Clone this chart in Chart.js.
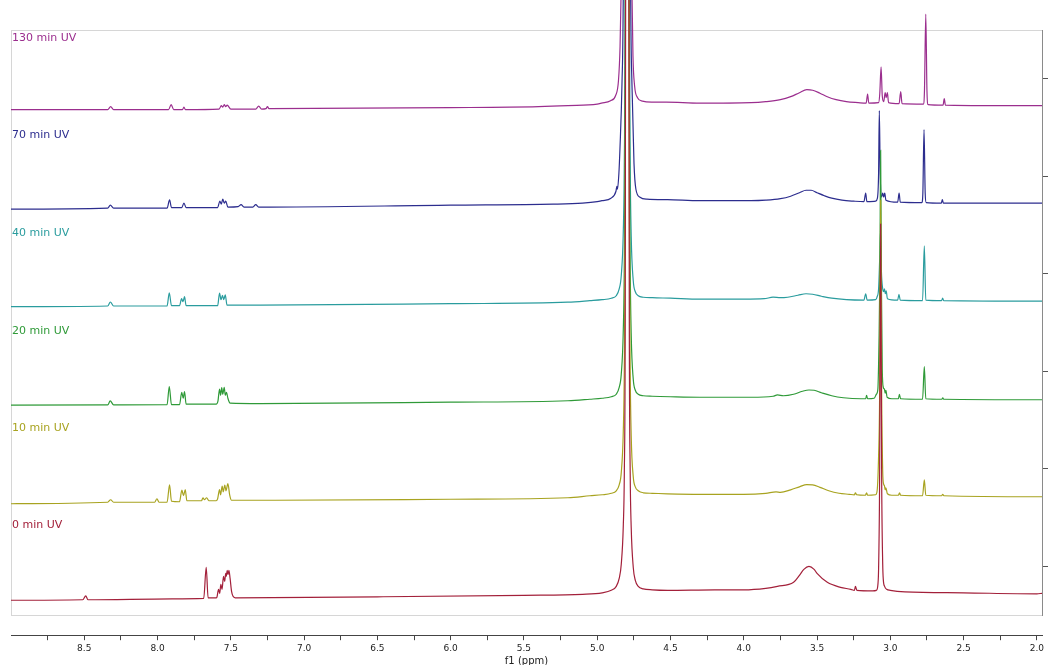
<!DOCTYPE html>
<html>
<head>
<meta charset="utf-8">
<script src="https://cdn.jsdelivr.net/npm/chart.js@4.4.1/dist/chart.umd.min.js"></script>
<style>
  html, body { margin: 0; padding: 0; background: #fff; }
  canvas { display: block; }
</style>
</head>
<body>
<canvas id="nmr" width="1048" height="665"></canvas>
<script>
// stacked 1H spectra, [ppm, intensity above the trace offset]
const spec0 = [
  [9.0, -7], [8.51, -6.5], [8.49, -2.5], [8.475, -6.5], [7.9, -5.5], [7.685, -5],
  [7.668, 26], [7.655, -4.5], [7.6, -4.5], [7.595, -4], [7.584, 4], [7.576, 0],
  [7.568, 9], [7.56, 4], [7.55, 17], [7.542, 12], [7.535, 20], [7.531, 17],
  [7.525, 23], [7.519, 19], [7.513, 23], [7.505, 15], [7.495, 2], [7.485, -3],
  [7.47, -4.5], [6.5, -3.5], [5.5, -2], [5.1, -1],
  [4.966, 0.5], [4.904, 3], [4.87, 7], [4.85, 15], [4.836, 29], [4.822, 68],
  [4.815, 121], [4.809, 274], [4.802, 1100], [4.795, 3000], [4.788, 1100],
  [4.781, 275], [4.775, 122], [4.768, 66], [4.754, 26], [4.74, 13], [4.72, 7],
  [4.686, 4.5], [4.624, 3.5], [4.52, 3], [4.2, 3.5], [4.0, 3.5],
  [3.85, 5], [3.77, 7], [3.66, 11], [3.62, 18], [3.59, 24], [3.555, 27],
  [3.52, 24], [3.5, 20], [3.43, 11], [3.34, 6], [3.27, 4], [3.245, 3],
  [3.238, 7], [3.228, 3], [3.12, 2.5], [3.095, 3], [3.084, 10], [3.08, 25],
  [3.073, 115], [3.066, 371], [3.059, 115], [3.052, 30], [3.048, 14],
  [3.039, 7], [3.025, 4], [3.0, 3], [2.9, 1.5], [2.5, 0.5], [2.0, -0.5], [1.965, 0]
];
const spec10 = [
  [9.0, -8], [8.34, -6.5], [8.32, -4], [8.3, -6.5], [8.02, -6.5], [8.004, -3],
  [7.99, -6.5], [7.935, -6.5], [7.918, 11], [7.905, -5.5], [7.85, -6],
  [7.834, 5.7], [7.823, 0], [7.811, 6.3], [7.8, -5], [7.7, -5], [7.69, -2],
  [7.68, -4], [7.665, -2], [7.65, -5], [7.6, -5], [7.59, -3], [7.577, 6.3],
  [7.57, 1], [7.559, 9.7], [7.552, 4], [7.541, 10.7], [7.533, 5], [7.52, 12.3],
  [7.508, 1], [7.495, -4.5], [7.2, -4.5], [6.0, -3.5], [5.2, -2], [5.05, 0],
  [4.966, 1], [4.904, 2.5], [4.87, 5], [4.85, 11], [4.836, 23], [4.822, 65],
  [4.815, 130], [4.809, 300], [4.802, 1200], [4.795, 4000], [4.788, 1200],
  [4.781, 300], [4.775, 130], [4.768, 60], [4.754, 19], [4.74, 9], [4.72, 5],
  [4.686, 3], [4.624, 2.5], [4.52, 2], [4.3, 1.5], [4.0, 1.5], [3.85, 2.5],
  [3.78, 4], [3.75, 3.5], [3.68, 6], [3.62, 9], [3.57, 11.3], [3.53, 11],
  [3.48, 8.5], [3.42, 5], [3.35, 2.5], [3.28, 1.5], [3.245, 1], [3.238, 3],
  [3.23, 1], [3.17, 0.5], [3.162, 3], [3.155, 0.5], [3.1, 1], [3.09, 5],
  [3.08, 40], [3.073, 100], [3.066, 297], [3.059, 100], [3.052, 25],
  [3.046, 12], [3.04, 10], [3.035, 6], [3.03, 8], [3.02, 2], [2.99, 0.5],
  [2.945, 0.5], [2.937, 3], [2.93, 0.5], [2.78, 0], [2.768, 16], [2.758, 0.5],
  [2.65, 0], [2.642, 1.5], [2.635, 0], [2.0, -1], [1.965, -1]
];
const spec20 = [
  [9.0, -6], [8.34, -5.7], [8.323, -1.7], [8.3, -5.7], [7.935, -5.5],
  [7.92, 12.7], [7.905, -5.5], [7.85, -5.5], [7.835, 7], [7.825, 1],
  [7.816, 7.7], [7.805, -5], [7.6, -5], [7.588, -2], [7.577, 10.3], [7.57, 4],
  [7.562, 11.7], [7.555, 5], [7.545, 12], [7.538, 4], [7.53, 7], [7.52, 1],
  [7.505, -4], [7.3, -4.5], [6.0, -3], [5.2, -1.5], [5.05, 0],
  [4.966, 1], [4.904, 2.5], [4.87, 5], [4.85, 12], [4.836, 25],
  [4.822, 70], [4.815, 140], [4.809, 330], [4.802, 1300], [4.795, 4000],
  [4.788, 1300], [4.781, 330], [4.775, 140], [4.768, 65], [4.754, 20],
  [4.74, 9], [4.72, 5], [4.686, 3.5], [4.624, 3], [4.5, 2.5], [4.3, 2],
  [3.95, 2], [3.8, 3], [3.77, 4.3], [3.73, 3.5], [3.66, 5], [3.6, 8],
  [3.555, 9.3], [3.52, 9], [3.47, 6.5], [3.4, 3.5], [3.32, 1.5], [3.2, 0.5],
  [3.168, 0.5], [3.162, 4], [3.155, 0.5], [3.11, 1], [3.095, 5], [3.085, 10],
  [3.077, 60], [3.071, 130], [3.066, 250], [3.061, 120], [3.055, 30],
  [3.048, 12], [3.04, 10], [3.035, 6], [3.03, 9], [3.022, 2], [2.99, 0.5],
  [2.945, 0.5], [2.938, 5], [2.93, 0.5], [2.78, 0], [2.768, 32.7], [2.758, 0.5],
  [2.648, 0], [2.642, 1.5], [2.636, 0], [2.0, -0.5], [1.965, -0.5]
];
const spec40 = [
  [9.0, -6], [8.34, -5.3], [8.322, -1.3], [8.3, -5.3], [7.935, -5.3],
  [7.92, 8], [7.905, -5], [7.85, -5], [7.836, 2], [7.826, -1], [7.816, 4],
  [7.805, -5], [7.59, -5], [7.577, 7.7], [7.567, 1], [7.557, 5.3], [7.548, 1],
  [7.538, 6], [7.526, -4.5], [7.3, -4.5], [6.0, -3], [5.2, -1.5], [5.05, 0],
  [4.966, 1], [4.904, 2.5], [4.87, 5], [4.85, 12], [4.836, 25],
  [4.822, 70], [4.815, 140], [4.809, 330], [4.802, 1300], [4.795, 4000],
  [4.788, 1300], [4.781, 330], [4.775, 140], [4.768, 65], [4.754, 20],
  [4.74, 9], [4.72, 5], [4.686, 3.5], [4.624, 3], [4.5, 2.5], [4.3, 1.5],
  [4.0, 1.5], [3.86, 2], [3.8, 3.5], [3.75, 3], [3.7, 3.5], [3.63, 5.5],
  [3.575, 7], [3.53, 6.5], [3.47, 4.5], [3.4, 2.5], [3.3, 1], [3.18, 0.5],
  [3.168, 7], [3.158, 0.5], [3.1, 1], [3.09, 4], [3.08, 12], [3.073, 40],
  [3.067, 70], [3.061, 30], [3.052, 12], [3.045, 9], [3.04, 12], [3.034, 7],
  [3.028, 10], [3.02, 2], [2.95, 0.5], [2.941, 6.5], [2.932, 0.5], [2.78, 0],
  [2.768, 55], [2.758, 0.5], [2.65, 0], [2.643, 2.5], [2.636, 0], [2.0, -0.5],
  [1.965, -0.5]
];
const spec70 = [
  [9.0, -6], [8.34, -5], [8.322, -2], [8.3, -5], [7.935, -5], [7.918, 3.3],
  [7.905, -4.5], [7.835, -4.5], [7.82, 0], [7.805, -4.5], [7.59, -4.5],
  [7.575, 2], [7.565, -1], [7.555, 4], [7.545, 0], [7.535, 2], [7.52, -4],
  [7.45, -3.5], [7.43, -1.5], [7.41, -4], [7.35, -4], [7.33, -1.5], [7.31, -4],
  [6.0, -2], [5.3, -1], [5.1, 0],
  [5.0, 1.5], [4.968, 2.5], [4.906, 5], [4.872, 12], [4.866, 17], [4.862, 14],
  [4.852, 30], [4.845, 54], [4.831, 120], [4.817, 400], [4.804, 2700],
  [4.797, 5000], [4.79, 2700], [4.777, 400], [4.763, 120], [4.749, 40],
  [4.736, 14], [4.708, 6], [4.661, 4], [4.52, 3.5],
  [4.3, 2.5], [3.95, 2.5], [3.85, 3], [3.75, 4.5], [3.68, 7], [3.62, 10.5],
  [3.575, 13], [3.54, 13], [3.5, 10.5], [3.45, 7.5], [3.4, 5], [3.33, 3],
  [3.25, 2], [3.18, 1.5], [3.168, 10], [3.16, 1.5], [3.1, 2], [3.088, 5],
  [3.08, 30], [3.075, 93], [3.069, 30], [3.06, 6], [3.052, 10], [3.045, 6],
  [3.038, 10], [3.03, 3], [2.95, 1], [2.94, 10], [2.932, 1], [2.785, 0.5],
  [2.778, 10], [2.77, 74], [2.762, 10], [2.755, 0.5], [2.652, 0], [2.645, 3.5],
  [2.638, 0], [2.0, 0], [1.965, 0]
];
const spec130 = [
  [9.0, -4], [8.34, -4], [8.32, -1], [8.3, -4], [7.925, -4], [7.907, 1],
  [7.89, -4], [7.83, -4], [7.82, -1.5], [7.81, -4], [7.58, -3.5], [7.565, 0],
  [7.555, -1.5], [7.545, 1], [7.535, -1], [7.525, 0.5], [7.5, -3.5],
  [7.33, -3.5], [7.31, -0.5], [7.29, -3.5], [7.26, -3], [7.25, -1], [7.24, -3],
  [6.0, -2], [5.4, -1], [5.2, 0],
  [5.0, 1.5], [4.971, 2.5], [4.909, 5], [4.875, 10], [4.855, 25], [4.844, 60],
  [4.838, 106], [4.827, 250], [4.814, 900], [4.8, 6000], [4.786, 900],
  [4.773, 260], [4.762, 106], [4.756, 50], [4.745, 20], [4.725, 8],
  [4.691, 4.5], [4.629, 3.5], [4.53, 3.5], [4.3, 2.5],
  [3.95, 3], [3.85, 4], [3.75, 6], [3.68, 9], [3.62, 13], [3.57, 16],
  [3.53, 15.5], [3.48, 12.5], [3.43, 9], [3.37, 6], [3.3, 4], [3.22, 3],
  [3.165, 2.5], [3.155, 11.7], [3.147, 2.5], [3.08, 3], [3.072, 12],
  [3.063, 39], [3.055, 10], [3.045, 4], [3.035, 13], [3.028, 8], [3.02, 13],
  [3.012, 3], [2.94, 2], [2.929, 14], [2.92, 2], [2.775, 1.5], [2.767, 15],
  [2.758, 92], [2.75, 15], [2.742, 1], [2.64, 0.5], [2.632, 7], [2.624, 0.5],
  [2.3, 0], [1.965, 0]
];

const spectra = [spec0, spec10, spec20, spec40, spec70, spec130];
const traceNames = ["0 min UV", "10 min UV", "20 min UV", "40 min UV", "70 min UV", "130 min UV"];
const offsets = [22, 120, 217, 316, 414, 512];
const colors = ["#a3203a", "#a8a320", "#2f9a38", "#2a9c9e", "#2c2d8e", "#9b2e8e"];

const xTicks = [8.75, 8.5, 8.25, 8.0, 7.75, 7.5, 7.25, 7.0, 6.75, 6.5, 6.25, 6.0, 5.75, 5.5,
  5.25, 5.0, 4.75, 4.5, 4.25, 4.0, 3.75, 3.5, 3.25, 3.0, 2.75, 2.5, 2.25, 2.0];
const rightTicks = [49, 147, 245, 343, 441, 539];
const ppmMin = 1.965, ppmMax = 9.0;

const datasets = spectra.map((spec, i) => ({
  label: traceNames[i],
  data: spec.map(p => ({ x: p[0], y: offsets[i] + p[1] })),
  borderColor: colors[i],
  borderWidth: 1.2,
  pointRadius: 0,
  cubicInterpolationMode: "monotone",
  fill: false,
  clip: { left: 0, top: false, right: 0, bottom: 0 }
}));

// trace names in the upper-left of each band
const traceLabels = {
  id: "traceLabels",
  afterDatasetsDraw(chart) {
    const { ctx, chartArea, scales } = chart;
    ctx.save();
    ctx.font = '11px "DejaVu Sans"';
    ctx.textBaseline = "middle";
    ctx.textAlign = "left";
    traceNames.forEach((name, i) => {
      ctx.fillStyle = colors[i];
      ctx.fillText(name, chartArea.left + 1, scales.y.getPixelForValue(offsets[i] + 68));
    });
    ctx.restore();
  }
};

const frame = "#d6d6d6";

new Chart(document.getElementById("nmr"), {
  type: "line",
  data: { datasets },
  options: {
    responsive: false,
    animation: false,
    layout: { padding: { left: 11, top: 30, right: 0, bottom: 0 } },
    plugins: { legend: { display: false }, tooltip: { enabled: false } },
    scales: {
      x: {
        type: "linear", position: "bottom", reverse: true, min: ppmMin, max: ppmMax,
        ticks: { display: false },
        grid: { drawOnChartArea: false, drawTicks: true, tickLength: 20, color: "rgba(0,0,0,0)" },
        border: { display: true, color: frame, width: 1 }
      },
      ppm: {
        type: "linear", position: "bottom", reverse: true, min: ppmMin, max: ppmMax,
        afterBuildTicks: (scale) => { scale.ticks = xTicks.map(v => ({ value: v })); },
        ticks: {
          autoSkip: false, maxRotation: 0, padding: 3, color: "#222",
          font: { family: "DejaVu Sans", size: 9 },
          callback: (v) => (Math.round(v * 100) % 50 === 0 ? Number(v).toFixed(1) : "")
        },
        grid: { drawOnChartArea: false, drawTicks: true, tickLength: 5, color: "#444" },
        border: { display: true, color: "#444", width: 1 },
        title: {
          display: true, text: "f1 (ppm)", color: "#222", padding: { top: 0, bottom: 0 },
          font: { family: "DejaVu Sans", size: 10, lineHeight: 0.8 }
        }
      },
      xTop: {
        type: "linear", position: "top", min: ppmMin, max: ppmMax,
        ticks: { display: false },
        grid: { drawOnChartArea: false, drawTicks: false },
        border: { display: true, color: frame, width: 1 }
      },
      yLeft: {
        type: "linear", position: "left", min: 0, max: 588,
        ticks: { display: false },
        grid: { drawOnChartArea: false, drawTicks: false },
        border: { display: true, color: frame, width: 1 }
      },
      y: {
        type: "linear", position: "right", min: 0, max: 588,
        afterBuildTicks: (scale) => { scale.ticks = rightTicks.map(v => ({ value: v })); },
        ticks: { display: false },
        grid: { drawOnChartArea: false, drawTicks: true, tickLength: 6, color: "#555" },
        border: { display: true, color: "#8a8a8a", width: 1 }
      }
    }
  },
  plugins: [traceLabels]
});
</script>
</body>
</html>
